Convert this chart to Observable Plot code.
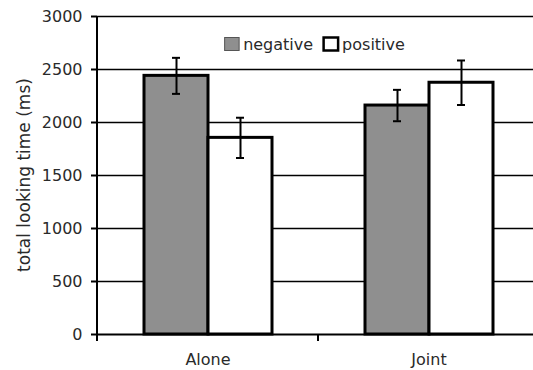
<!DOCTYPE html>
<html>
<head>
<meta charset="utf-8">
<script src="https://cdn.jsdelivr.net/npm/d3@7"></script>
<script src="https://cdn.jsdelivr.net/npm/@observablehq/plot@0.6"></script>
<style>
  html, body { margin: 0; padding: 0; background: #fff; overflow: hidden; }
  #chart { width: 533px; height: 370px; overflow: hidden; }
  #chart svg { max-width: none !important; font-family: "DejaVu Sans", sans-serif; }
</style>
</head>
<body>
<div id="chart"></div>
<script>
// ---- data ----
const groups = ["Alone", "Joint"];
const series = ["negative", "positive"];
const aloneValues = [2440, 1855];
const jointValues = [2160, 2375];
const aloneErrors = [170, 190];
const jointErrors = [148, 210];
const yTicks = [0, 500, 1000, 1500, 2000, 2500, 3000];
const yLabel = "total looking time (ms)";
const seriesColors = ["#8f8f8f", "#ffffff"];

const data = [];
groups.forEach((g, gi) => {
  const vals = gi === 0 ? aloneValues : jointValues;
  const errs = gi === 0 ? aloneErrors : jointErrors;
  series.forEach((s, si) => {
    data.push({group: g, series: s, value: vals[si], lo: vals[si] - errs[si], hi: vals[si] + errs[si]});
  });
});

const FS = 16;
const FONT = "'DejaVu Sans', sans-serif";
const TXT = "#2a2a2a";
const plot = Plot.plot({
  width: 539,
  height: 370,
  marginLeft: 97,
  marginRight: 0,
  marginTop: 16,
  marginBottom: 36,
  style: {fontFamily: FONT, fontSize: FS + "px", color: "#000", background: "#fff", maxWidth: "none"},
  fx: {domain: groups, padding: 0, label: null},
  x: {domain: series, paddingInner: 0, paddingOuter: 0.713, axis: null},
  y: {domain: [0, 3000], label: null},
  color: {domain: series, range: seriesColors},
  marks: [
    Plot.ruleY(yTicks.filter(d => d > 0), {stroke: "#000", strokeWidth: 1.6}),
    Plot.barY(data, {fx: "group", x: "series", y: "value", fill: "series", stroke: "#000", strokeWidth: 3}),
    Plot.ruleX(data, {fx: "group", x: "series", y1: "lo", y2: "hi", stroke: "#000", strokeWidth: 2}),
    Plot.tickY(data, {fx: "group", x: "series", y: "lo", insetLeft: 28, insetRight: 28, stroke: "#000", strokeWidth: 2}),
    Plot.tickY(data, {fx: "group", x: "series", y: "hi", insetLeft: 28, insetRight: 28, stroke: "#000", strokeWidth: 2}),
    Plot.ruleY([0], {stroke: "#000", strokeWidth: 2}),
    Plot.axisY({ticks: yTicks, tickSize: 6, tickPadding: 9, fontSize: FS, label: null, stroke: "#000", strokeWidth: 2, tickFormat: d => String(d), fill: TXT}),
    Plot.axisFx({anchor: "bottom", tickSize: 0, tickPadding: 19.5, fontSize: FS, label: null, fill: TXT})
  ]
});
document.getElementById("chart").appendChild(plot);

// extra axis lines / legend using the plot's scales
const svg = d3.select(plot);
const yS = plot.scale("y");
const fxS = plot.scale("fx");
const y0 = yS.apply(0), yTop = yS.apply(3000);
const left = fxS.apply(groups[0]);
const bw = fxS.bandwidth;
// vertical axis line
svg.append("line").attr("x1", left).attr("x2", left).attr("y1", yTop).attr("y2", y0 + 7)
  .attr("stroke", "#000").attr("stroke-width", 2);
// category boundary ticks
groups.forEach(g => {
  const xr = fxS.apply(g) + bw;
  svg.append("line").attr("x1", xr).attr("x2", xr).attr("y1", y0).attr("y2", y0 + 7)
    .attr("stroke", "#000").attr("stroke-width", 2);
});
// y label
svg.append("text")
  .attr("transform", `translate(30,${(y0 + yTop) / 2}) rotate(-90)`)
  .attr("text-anchor", "middle")
  .attr("fill", TXT)
  .style("font-family", FONT)
  .style("font-size", "17px")
  .text(yLabel);
// legend
const legend = svg.append("g");
let cx = 0;
series.forEach((s, i) => {
  const g = legend.append("g").attr("transform", `translate(${cx},0)`);
  g.append("rect").attr("x", 0.5).attr("y", -12.5).attr("width", 14.5).attr("height", 13)
    .attr("fill", seriesColors[i]).attr("stroke", i === 0 ? "#555" : "#000")
    .attr("stroke-width", i === 0 ? 1 : 2.5);
  const t = g.append("text").attr("x", 19).attr("y", 0).attr("fill", TXT)
    .attr("text-anchor", "start")
    .style("font-family", FONT).style("font-size", FS + "px").text(s);
  const w = t.node().getComputedTextLength();
  cx += 19 + w + 10;
});
const totalW = cx - 10;
const plotCenter = (left + fxS.apply(groups[1]) + bw) / 2;
legend.attr("transform", `translate(${plotCenter - 3.5 - totalW / 2},50)`);
</script>
</body>
</html>
